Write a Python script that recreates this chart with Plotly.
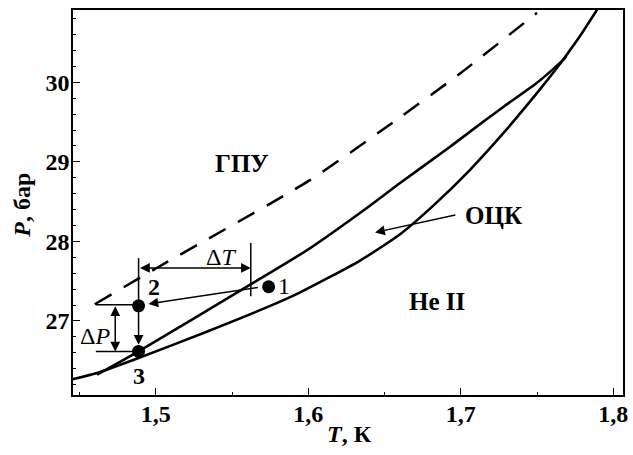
import plotly.graph_objects as go

FONT = "Liberation Serif"

# --- curves (T in K, P in bar) ---
upper_T = [1.4614, 1.4887, 1.5619, 1.6000, 1.6384, 1.6602, 1.6930, 1.7061, 1.7279, 1.7498, 1.7672, 1.7692]
upper_P = [26.325, 26.618, 27.456, 27.900, 28.420, 28.734, 29.190, 29.380, 29.690, 29.990, 30.280, 30.330]

lower_T = [1.4440, 1.4614, 1.4887, 1.5313, 1.5750, 1.5947, 1.6340, 1.6602, 1.6820, 1.7061,
           1.7279, 1.7498, 1.7629, 1.7695, 1.7782, 1.7900]
lower_P = [26.262, 26.347, 26.535, 26.850, 27.190, 27.360, 27.760, 28.090, 28.450, 28.900,
           29.360, 29.860, 30.175, 30.345, 30.580, 30.930]

dash_T = [1.4600, 1.5000, 1.6000, 1.6602, 1.7000, 1.7500]
dash_P = [27.210, 27.660, 28.757, 29.560, 30.117, 30.874]

# --- experimental points 1, 2, 3 ---
pts_T = [1.5740, 1.4887, 1.4887]
pts_P = [27.430, 27.190, 26.618]
pts_lbl = ["1", "2", "3"]
lbl_T = [1.5842, 1.4990, 1.4891]
lbl_P = [27.435, 27.427, 26.304]

# --- construction elements ---
dT_y = 27.666
dT_x = [1.4887, 1.5623]
dT_left_P = [27.790, 27.190]
dT_right_P = [27.980, 27.310]
dP_x = 1.4734
dP_lines_T = [1.4607, 1.4887]
dP_levels = [27.205, 26.618]

fig = go.Figure()
line_style = dict(color="black", width=2.6, shape="spline", smoothing=0.6)
fig.add_trace(go.Scatter(x=lower_T, y=lower_P, mode="lines", line=line_style, hoverinfo="skip"))
fig.add_trace(go.Scatter(x=upper_T, y=upper_P, mode="lines", line=line_style, hoverinfo="skip"))
fig.add_trace(go.Scatter(x=dash_T, y=dash_P, mode="lines",
                         line=dict(color="black", width=2.5, dash="19px,14px",
                                   shape="spline", smoothing=0.6), hoverinfo="skip"))
fig.add_trace(go.Scatter(x=pts_T, y=pts_P, mode="markers",
                         marker=dict(color="black", size=13), hoverinfo="skip"))

# vertical guide lines for dT
fig.add_shape(type="line", x0=dT_x[0], x1=dT_x[0], y0=dT_left_P[0], y1=dT_left_P[1],
              line=dict(color="black", width=1.5))
fig.add_shape(type="line", x0=dT_x[1], x1=dT_x[1], y0=dT_right_P[0], y1=dT_right_P[1],
              line=dict(color="black", width=1.5))
# horizontal guide lines for dP
for lev in dP_levels:
    fig.add_shape(type="line", x0=dP_lines_T[0], x1=dP_lines_T[1], y0=lev, y1=lev,
                  line=dict(color="black", width=1.5))

arrow_common = dict(showarrow=True, text="", axref="x", ayref="y", xref="x", yref="y",
                    arrowcolor="black", arrowwidth=1.5, arrowhead=2, arrowsize=1.3,
                    standoff=0, startstandoff=0)
# dT double arrow
fig.add_annotation(x=dT_x[1], y=dT_y, ax=dT_x[0], ay=dT_y, arrowside="end+start",
                   startarrowhead=2, startarrowsize=1.3, **arrow_common)
# dP double arrow
fig.add_annotation(x=dP_x, y=dP_levels[1], ax=dP_x, ay=dP_levels[0], arrowside="end+start",
                   startarrowhead=2, startarrowsize=1.3, **arrow_common)
# 1 -> 2
fig.add_annotation(x=1.4952, y=27.214, ax=1.5680, ay=27.425, **arrow_common)
# 2 -> 3
fig.add_annotation(x=1.4887, y=26.70, ax=1.4887, ay=27.19, **arrow_common)
# OCK pointer
fig.add_annotation(x=1.6438, y=28.113, ax=1.6974, ay=28.335, **arrow_common)

def txt(x, y, s, size=22, bold=True):
    fig.add_annotation(x=x, y=y, text=s, showarrow=False, xref="x", yref="y",
                       xanchor="center", yanchor="middle",
                       font=dict(family=FONT, size=size, color="black",
                                 weight="bold" if bold else "normal"))

for tx, ty, s in zip(lbl_T, lbl_P, pts_lbl):
    txt(tx, ty, s, size=24, bold=(s != "1"))
txt(1.5426, 27.80, "Δ<i>T</i>", size=24, bold=False)
txt(1.4603, 26.815, "Δ<i>P</i>", size=24, bold=False)
txt(1.5564, 28.976, "ГПУ", size=25)
txt(1.7213, 28.320, "ОЦК", size=25)
txt(1.6843, 27.246, "He II", size=25)

# axis titles
fig.add_annotation(x=0.502, y=-0.100, xref="paper", yref="paper", text="<i>T</i>, К",
                   showarrow=False, xanchor="center", yanchor="middle",
                   font=dict(family=FONT, size=24, color="black", weight="bold"))
fig.add_annotation(x=-0.093, y=0.494, xref="paper", yref="paper", text="<i>P</i>, бар",
                   showarrow=False, textangle=-90, xanchor="center", yanchor="middle",
                   font=dict(family=FONT, size=24, color="black", weight="bold"))

axis_common = dict(showline=True, linecolor="black", linewidth=1.5, mirror=True,
                   showgrid=False, zeroline=False, ticks="inside", ticklen=7,
                   tickwidth=1.2, tickcolor="black", automargin=False,
                   tickfont=dict(family=FONT, size=24, color="black", weight="bold"))
fig.update_xaxes(range=[1.4457, 1.8064], tickvals=[1.5, 1.6, 1.7, 1.8], tickformat=".1f",
                 ticklabelstandoff=-4,
                 minor=dict(dtick=0.05, tick0=1.45, ticks="inside", ticklen=3, tickcolor="black"),
                 **axis_common)
fig.update_yaxes(range=[26.07, 30.908], tickvals=[27, 28, 29, 30], ticklabelstandoff=-3,
                 minor=dict(dtick=0.2, tick0=26.0, ticks="inside", ticklen=3, tickcolor="black"),
                 **axis_common)

fig.update_layout(width=633, height=455, margin=dict(l=73, r=10, t=10, b=60),
                  plot_bgcolor="white", paper_bgcolor="white", showlegend=False,
                  separators=", ", font=dict(family=FONT, color="black"))

fig.write_html("out.html", config={"displayModeBar": False},
               post_script="document.body.style.margin='0';document.body.style.overflow='hidden';")
